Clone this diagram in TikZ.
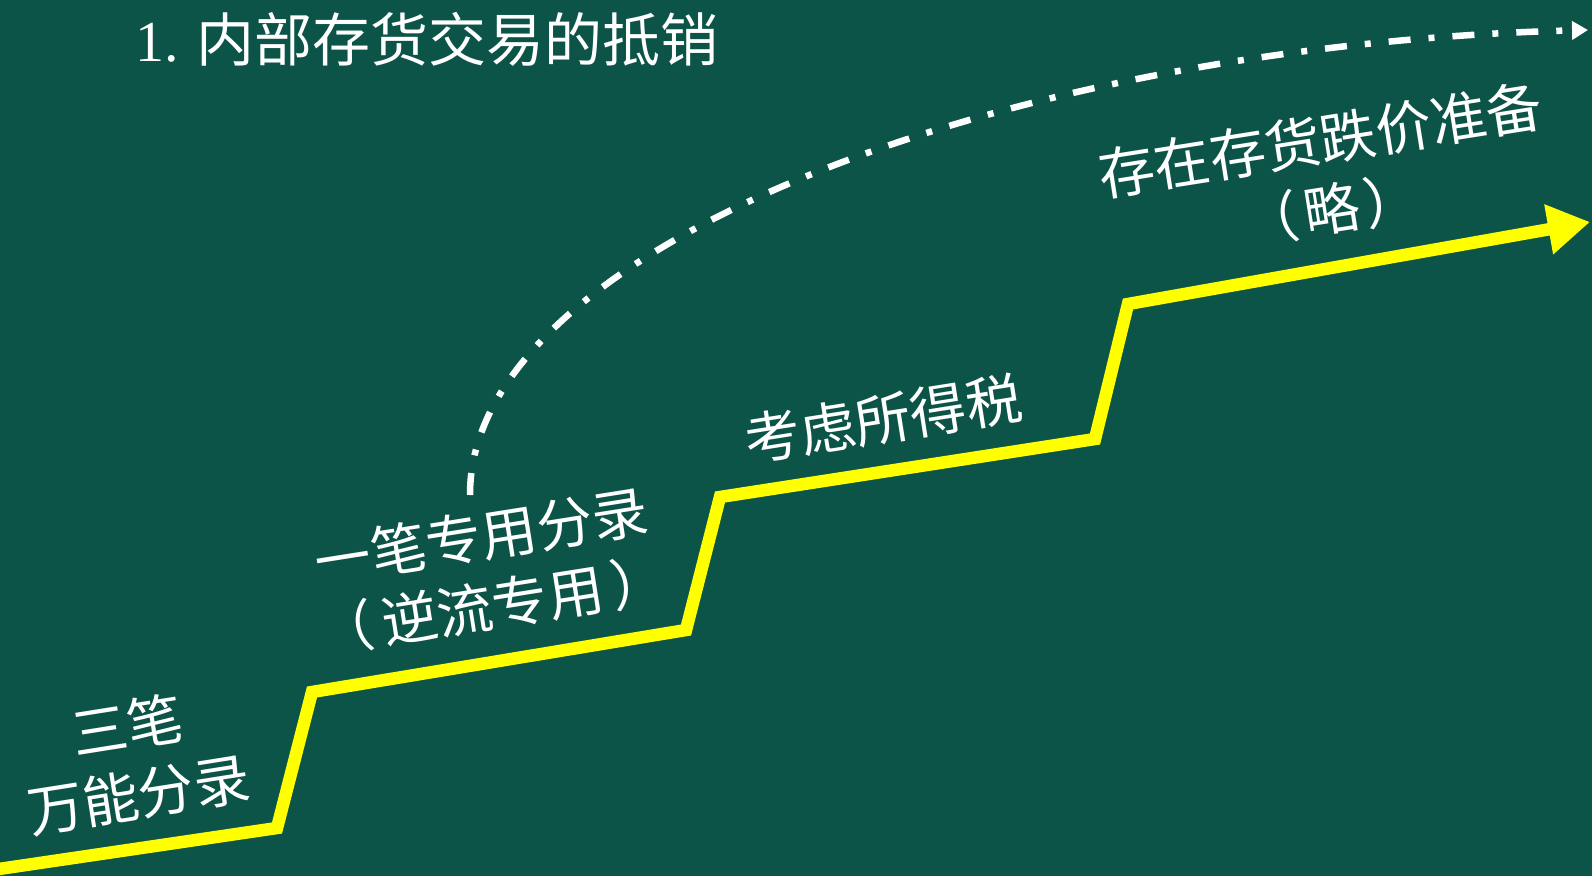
\documentclass[tikz,border=0pt]{standalone}
\usepackage{fontspec}
\usetikzlibrary{arrows.meta}
\newfontfamily\cjk{Noto Sans CJK SC}
\newfontfamily\latserif{Liberation Serif}
\definecolor{bgc}{RGB}{12,84,72}
\definecolor{stepyellow}{RGB}{255,255,0}
\tikzset{
  lbl/.style={text=white, align=center, rotate=9, inner sep=0pt,
    font=\cjk\fontsize{56}{70}\selectfont},
  ttl/.style={text=white, anchor=west, inner sep=0pt,
    font=\cjk\fontsize{58}{60}\selectfont},
  stair/.style={draw=stepyellow, line width=12.5pt, line join=miter,
    -{Triangle[length=42pt,width=48pt]}},
  dashdot/.style={draw=white, line width=6.5pt,
    dash pattern=on 22pt off 18pt on 6pt off 18pt,
    -{Triangle[length=16pt,width=18pt]}}
}
\begin{document}
\begin{tikzpicture}[x=1pt,y=-1pt]
\fill[bgc] (0,0) rectangle (1592,876);
\useasboundingbox (0,0) rectangle (1592,876);

% title
\node[ttl] (title) at (135,39) {{\latserif 1.} 内部存货交易的抵销};

% staircase
\coordinate (a) at (-8,870);
\coordinate (b) at (277,828);
\coordinate (c) at (312,692);
\coordinate (d) at (686,630);
\coordinate (e) at (720,497);
\coordinate (f) at (1095,439);
\coordinate (g) at (1128,304);
\coordinate (h) at (1590,222);
\draw[stair] (a) -- (b) -- (c) -- (d) -- (e) -- (f) -- (g) -- (h);

% dash-dot curve
\coordinate (s) at (470,495);
\coordinate (t) at (1588,30);
\draw[dashdot] (s) .. controls (469,250) and (1000,45) .. (t);

% labels
\node[lbl] (l1) at (133,760) {三笔\\万能分录};
\node[lbl] (l2) at (487,571) {一笔专用分录\\（\hspace{0.15em}逆流专用\hspace{0.15em}）};
\node[lbl] (l3) at (883,419) {考虑所得税};
\node[lbl] (l4) at (1326,175) {存在存货跌价准备\\（\hspace{0.1em}略\hspace{0.1em}）};
\end{tikzpicture}
\end{document}
